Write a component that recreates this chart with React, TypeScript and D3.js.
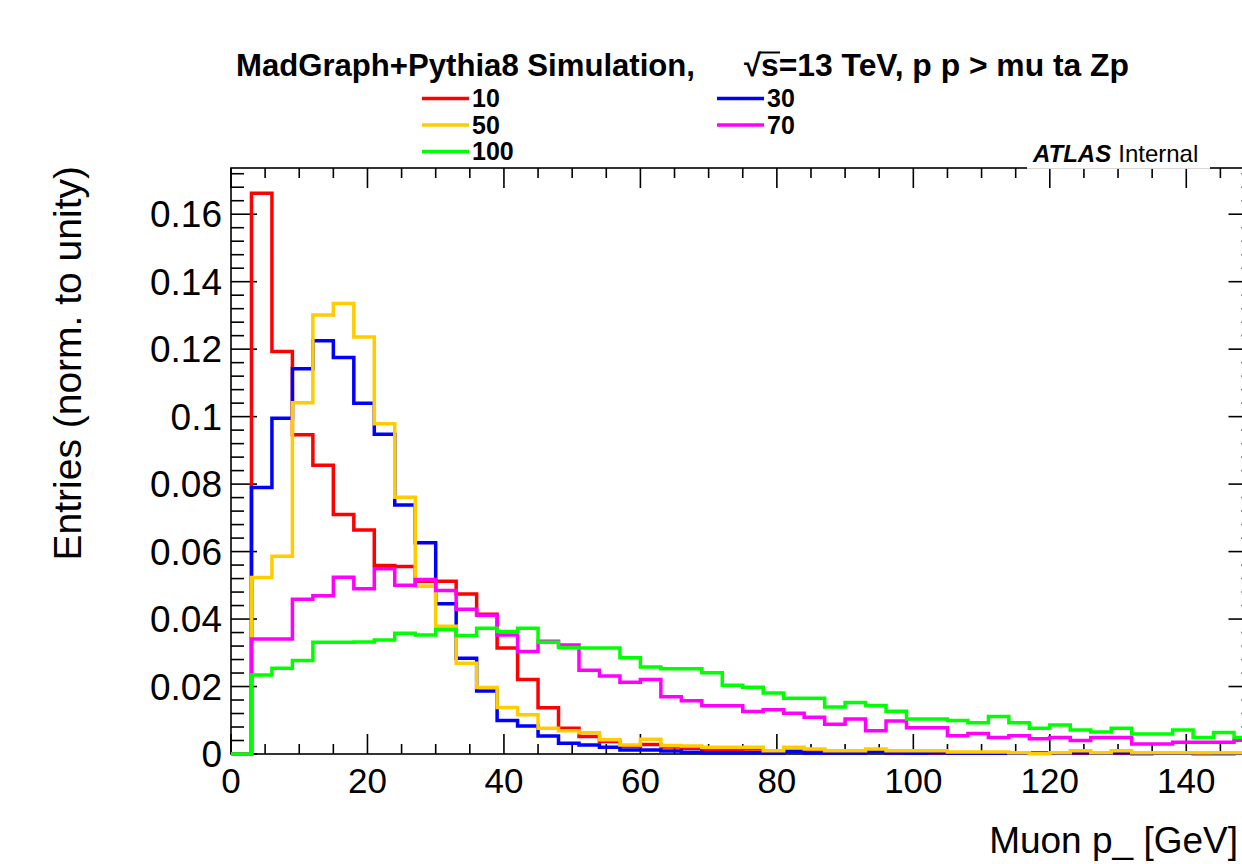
import React from 'react';
import * as d3 from 'd3';

// ---------------- data ----------------
const BIN_LOW = [0, 3, 6, 9, 12, 15, 18, 21, 24, 27, 30, 33, 36, 39, 42, 45, 48, 51, 54, 57, 60, 63, 66, 69, 72, 75, 78, 81, 84, 87, 90, 93, 96, 99, 102, 105, 108, 111, 114, 117, 120, 123, 126, 129, 132, 135, 138, 141, 144, 147];
const X_MAX = 150;

const SERIES_LABELS = ['10', '30', '50', '70', '100'];
const SERIES_COLORS = ['#ff0000', '#0000ff', '#ffcc00', '#ff00ff', '#00ff00'];

const ZP10 = [0, 0.1662, 0.1193, 0.0946, 0.0856, 0.0710, 0.0664, 0.0559, 0.0556, 0.0512,
  0.0512, 0.0474, 0.0414, 0.0314, 0.0221, 0.0137, 0.0076, 0.0052, 0.0037, 0.0022,
  0.0028, 0.0021, 0.0017, 0.0012, 0.0012, 0.0015, 0.0008, 0.0008, 0.0012, 0.0006,
  0.0005, 0.0005, 0.0004, 0.0004, 0.0003, 0.0003, 0.0002, 0.0003, 0.0002, 0.0002,
  0.0003, 0.0002, 0.0002, 0.0002, 0.0001, 0.0002, 0.0002, 0.0001, 0.0001, 0.0002];
const ZP30 = [0, 0.0790, 0.0995, 0.1142, 0.1225, 0.1175, 0.1040, 0.0948, 0.0738, 0.0626,
  0.0445, 0.0284, 0.0187, 0.0099, 0.0083, 0.0053, 0.0032, 0.0027, 0.0020, 0.0012,
  0.0012, 0.0009, 0.0005, 0.0004, 0.0004, 0.0004, 0.0003, 0.0007, 0.0003, 0.0003,
  0.0003, 0.0006, 0.0003, 0.0002, 0.0004, 0.0002, 0.0002, 0.0002, 0.0002, 0.0002,
  0.0002, 0.0004, 0.0002, 0.0004, 0.0002, 0.0002, 0.0002, 0.0004, 0.0002, 0.0002];
const ZP50 = [0, 0.0523, 0.0586, 0.1041, 0.1301, 0.1335, 0.1236, 0.0979, 0.0761, 0.0497,
  0.0379, 0.0269, 0.0197, 0.0138, 0.0116, 0.0076, 0.0069, 0.0063, 0.0042, 0.0027,
  0.0044, 0.0025, 0.0024, 0.0020, 0.0020, 0.0020, 0.0010, 0.0020, 0.0015, 0.0010,
  0.0010, 0.0015, 0.0010, 0.0010, 0.0010, 0.0006, 0.0006, 0.0006, 0.0004, 0.0001,
  0.0004, 0.0010, 0.0004, 0.0010, 0.0004, 0.0004, 0.0004, 0.0004, 0.0004, 0.0004];
const ZP70 = [0, 0.0341, 0.0341, 0.0459, 0.0469, 0.0524, 0.0490, 0.0549, 0.0500, 0.0517,
  0.0485, 0.0429, 0.0411, 0.0353, 0.0304, 0.0334, 0.0323, 0.0248, 0.0231, 0.0213,
  0.0221, 0.0170, 0.0158, 0.0143, 0.0143, 0.0126, 0.0131, 0.0121, 0.0109, 0.0088,
  0.0104, 0.0069, 0.0098, 0.0078, 0.0078, 0.0054, 0.0061, 0.0049, 0.0054, 0.0045,
  0.0049, 0.0040, 0.0049, 0.0049, 0.0030, 0.0030, 0.0035, 0.0035, 0.0035, 0.0041];
const ZP100 = [0, 0.0234, 0.0254, 0.0277, 0.0331, 0.0331, 0.0332, 0.0338, 0.0358, 0.0353,
  0.0369, 0.0351, 0.0373, 0.0363, 0.0373, 0.0331, 0.0316, 0.0314, 0.0314, 0.0285,
  0.0258, 0.0253, 0.0253, 0.0241, 0.0204, 0.0198, 0.0181, 0.0165, 0.0165, 0.0139,
  0.0153, 0.0144, 0.0127, 0.0104, 0.0104, 0.0099, 0.0093, 0.0111, 0.0093, 0.0076,
  0.0086, 0.0071, 0.0065, 0.0076, 0.0059, 0.0059, 0.0071, 0.0049, 0.0064, 0.0049];

const SERIES = [ZP10, ZP30, ZP50, ZP70, ZP100];

const X_TICKS = [0, 20, 40, 60, 80, 100, 120, 140];
const Y_TICKS = [0, 0.02, 0.04, 0.06, 0.08, 0.1, 0.12, 0.14, 0.16];
const Y_TICK_LABELS = ['0', '0.02', '0.04', '0.06', '0.08', '0.1', '0.12', '0.14', '0.16'];
const Y_MAX = 0.1737;

const TITLE_LEFT = 'MadGraph+Pythia8 Simulation,';
const TITLE_RIGHT = 's=13 TeV, p p > mu ta Zp';
const X_TITLE = 'Muon p_ [GeV]';
const Y_TITLE = 'Entries (norm. to unity)';

// ---------------- layout ----------------
const W = 1242;
const H = 864;
const PL = 231;
const PR = 1254.5;
const PT = 168;
const PB = 754;
const FONT = '"Liberation Sans", Arial, Helvetica, sans-serif';

export default function App() {
  const x = d3.scaleLinear().domain([0, X_MAX]).range([PL, PR]);
  const y = d3.scaleLinear().domain([0, Y_MAX]).range([PB, PT]);

  const line = d3
    .line<[number, number]>()
    .x((d) => x(d[0]))
    .y((d) => y(d[1]))
    .curve(d3.curveStepAfter);

  const paths = SERIES.map((vals) => {
    const pts: [number, number][] = BIN_LOW.map((b, i) => [b, vals[i]]);
    pts.push([X_MAX, vals[vals.length - 1]]);
    return line(pts) as string;
  });

  const xMinor = d3.range(0, X_MAX + 0.001, 5);
  const yMinor = d3.range(0, Y_MAX, 0.004);

  const legendPos = [
    { lx: 422, ly: 98.5 },
    { lx: 717, ly: 98.5 },
    { lx: 422, ly: 125 },
    { lx: 717, ly: 125 },
    { lx: 422, ly: 151.5 },
  ];

  return (
    <svg
      width={W}
      height={H}
      style={{ position: 'absolute', left: 0, top: 0, background: '#fff' }}
      fontFamily={FONT}
    >
      <rect x={0} y={0} width={W} height={H} fill="#fff" />
      <defs>
        <clipPath id="plotclip">
          <rect x={PL} y={PT - 2} width={PR - PL} height={PB - PT + 4} />
        </clipPath>
      </defs>

      {/* frame */}
      <rect x={PL} y={PT} width={PR - PL} height={PB - PT} fill="none" stroke="#000" strokeWidth={1.6} />

      {/* x ticks bottom & top */}
      {xMinor.map((v) => {
        const major = Math.abs(v % 20) < 1e-6;
        const len = major ? 20 : 10;
        return (
          <g key={'xt' + v} stroke="#000" strokeWidth={1.6}>
            <line x1={x(v)} x2={x(v)} y1={PB} y2={PB - len} />
            <line x1={x(v)} x2={x(v)} y1={PT} y2={PT + len} />
          </g>
        );
      })}
      {/* y ticks left & right */}
      {yMinor.map((v, i) => {
        const major = i % 5 === 0;
        const len = major ? 26 : 13;
        return (
          <g key={'yt' + i} stroke="#000" strokeWidth={1.6}>
            <line x1={PL} x2={PL + len} y1={y(v)} y2={y(v)} />
            <line x1={PR} x2={PR - len} y1={y(v)} y2={y(v)} />
          </g>
        );
      })}

      {/* histograms */}
      <g clipPath="url(#plotclip)">
        {paths.map((d, i) => (
          <path key={'h' + i} d={d} fill="none" stroke={SERIES_COLORS[i]} strokeWidth={3.5} strokeLinejoin="miter" />
        ))}
      </g>

      {/* tick labels */}
      {X_TICKS.map((v) => (
        <text key={'xl' + v} x={x(v)} y={793} fontSize={35} textAnchor="middle" fill="#000">
          {String(v)}
        </text>
      ))}
      {Y_TICKS.map((v, i) => (
        <text key={'yl' + v} x={222} y={y(v) + 13} fontSize={37} textAnchor="end" fill="#000">
          {Y_TICK_LABELS[i]}
        </text>
      ))}

      {/* axis titles */}
      <text x={1238} y={853} fontSize={37} textAnchor="end" fill="#000">
        {X_TITLE}
      </text>
      <text
        transform={`translate(81, ${PT - 2}) rotate(-90)`}
        fontSize={39}
        textAnchor="end"
        fill="#000"
      >
        {Y_TITLE}
      </text>

      {/* ATLAS label box */}
      <rect x={1027} y={136} width={183} height={32.8} fill="#fff" />
      <text x={1033} y={162} fontSize={24} fill="#000">
        <tspan fontWeight="bold" fontStyle="italic">ATLAS</tspan>
        <tspan dx={7}>Internal</tspan>
      </text>

      {/* title */}
      <text x={236} y={76} fontSize={31} fontWeight="bold" fill="#000" textLength={459} lengthAdjust="spacingAndGlyphs">
        {TITLE_LEFT}
      </text>
      <text x={744} y={76} fontSize={31} fontWeight="bold" fill="#000">
        {'\u221A'}
      </text>
      <line x1={759} x2={780} y1={52.5} y2={52.5} stroke="#000" strokeWidth={2} />
      <text x={761} y={76} fontSize={31} fontWeight="bold" fill="#000" textLength={368} lengthAdjust="spacingAndGlyphs">
        {TITLE_RIGHT}
      </text>

      {/* legend */}
      {SERIES_LABELS.map((lab, i) => (
        <g key={'lg' + i}>
          <line
            x1={legendPos[i].lx}
            x2={legendPos[i].lx + 47}
            y1={legendPos[i].ly}
            y2={legendPos[i].ly}
            stroke={SERIES_COLORS[i]}
            strokeWidth={3.5}
          />
          <text x={legendPos[i].lx + 50} y={legendPos[i].ly + 8.5} fontSize={25} fontWeight="bold" fill="#000">
            {lab}
          </text>
        </g>
      ))}
    </svg>
  );
}
